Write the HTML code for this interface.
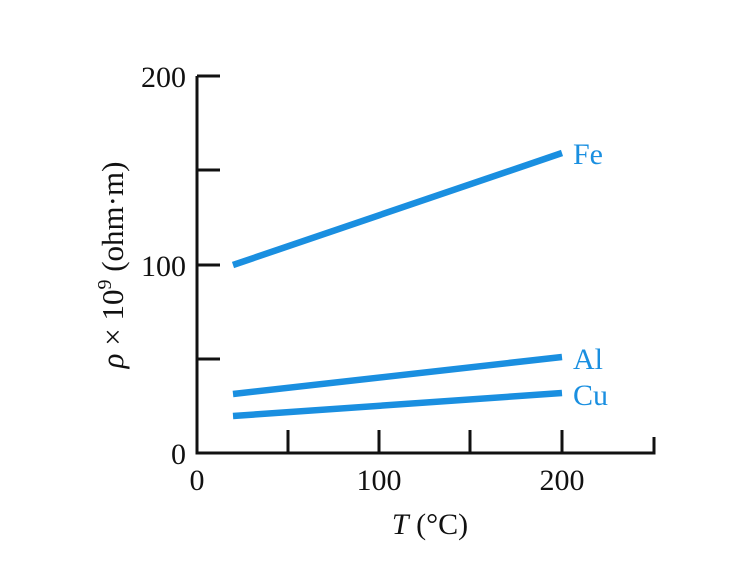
<!DOCTYPE html>
<html><head><meta charset="utf-8"><style>
html,body{margin:0;padding:0;background:#fff;}
svg{display:block;}
text{font-family:"Liberation Serif",serif;}
</style></head><body>
<svg width="732" height="567" viewBox="0 0 732 567" xmlns="http://www.w3.org/2000/svg">
<g stroke="#111" stroke-width="3" fill="none">
<path d="M197,76 V453 H654 V437"/>
<path d="M197,76 H220 M197,170 H220 M197,265 H220 M197,359 H220"/>
<path d="M288,453 V430 M379,453 V430 M470,453 V430 M562,453 V430"/>
</g>
<g fill="#111" font-size="30" text-anchor="end">
<text x="186" y="87">200</text>
<text x="186" y="276">100</text>
<text x="186" y="464">0</text>
</g>
<g fill="#111" font-size="30" text-anchor="middle">
<text x="197" y="490">0</text>
<text x="379" y="490">100</text>
<text x="562" y="490">200</text>
<text x="430" y="534"><tspan font-style="italic">T</tspan> (°C)</text>
</g>
<text transform="translate(123,265) rotate(-90)" font-size="31" text-anchor="middle" fill="#111"><tspan font-style="italic">ρ</tspan> × 10<tspan font-size="20" dy="-12">9</tspan><tspan dy="12"> (ohm·m)</tspan></text>
<g stroke="#1a8fe0" stroke-width="6.5" stroke-linecap="butt">
<line x1="233" y1="265" x2="562" y2="153"/>
<line x1="233" y1="394" x2="562" y2="357"/>
<line x1="233" y1="416" x2="562" y2="393"/>
</g>
<g fill="#1a8fe0" font-size="30">
<text x="573" y="164">Fe</text>
<text x="573" y="369">Al</text>
<text x="573" y="405">Cu</text>
</g>
</svg>
</body></html>
